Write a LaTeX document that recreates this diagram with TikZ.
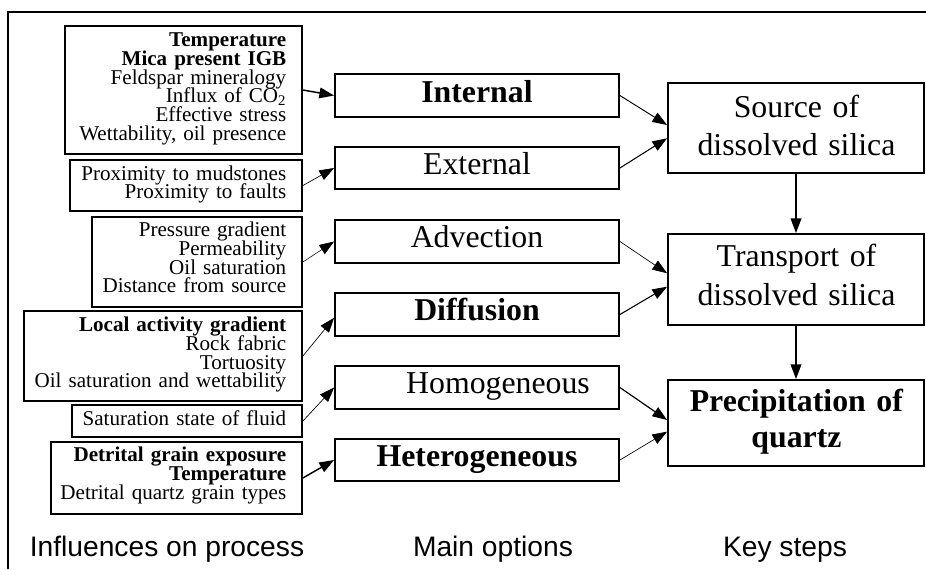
\documentclass[tikz,border=0pt]{standalone}
\usepackage{fontspec}
\setmainfont{Liberation Serif}
\newfontfamily\colfont{Liberation Sans}
\usetikzlibrary{arrows.meta,fit}
\newcommand\tightlines{\lineskiplimit=-100pt\relax}
\begin{document}
\begin{tikzpicture}[x=0.75pt,y=-0.75pt,
  box/.style={draw, line width=1.4pt, inner sep=0pt},
  inftext/.style={anchor=base east, inner sep=0pt, text width=200pt, align=right,
    font={\fontsize{15.8}{14}\selectfont\tightlines}},
  opttext/.style={anchor=base, inner sep=0pt, font={\fontsize{23.85}{28}\selectfont}},
  steptext/.style={anchor=base, inner sep=0pt, text width=200pt, align=center,
    font={\fontsize{23.85}{29}\selectfont\tightlines}},
  coltitle/.style={anchor=base, inner sep=0pt, font={\colfont\fontsize{21.15}{25}\selectfont}},
  arr/.style={-{Triangle[length=11pt,width=8pt]}},
  thickarr/.style={arr, line width=1.1pt},
  medarr/.style={arr, line width=0.8pt},
  thinarr/.style={arr, line width=0.5pt}
]
\useasboundingbox (0,0) rectangle (926,569);
% frame
\coordinate (fbl) at (7.5,569);
\coordinate (ftl) at (7.5,11.7);
\coordinate (ftr) at (926,11.7);
\draw[line width=1.5pt] (fbl) -- (ftl) -- (ftr);

% influence boxes
\node[box, fit={(65,26) (302,154)}] (b1) {};
\node[box, fit={(70,160) (302,211)}] (b2) {};
\node[box, fit={(92,217) (302,307)}] (b3) {};
\node[box, fit={(24,311) (302,401)}] (b4) {};
\node[box, fit={(72,405) (302,437)}] (b5) {};
\node[box, fit={(51,442) (302,514)}] (b6) {};

\node[inftext] (t1) at (286.5,46.7) {\textbf{Temperature}\\\textbf{Mica present IGB}\\Feldspar mineralogy\\Influx of CO\textsubscript{2}\\Effective stress\\Wettability, oil presence};
\node[inftext] (t2) at (286.5,180) {Proximity to mudstones\\Proximity to faults};
\node[inftext] (t3) at (286.5,236.7) {Pressure gradient\\Permeability\\Oil saturation\\Distance from source};
\node[inftext] (t4) at (286.5,331.7) {\textbf{Local activity gradient}\\Rock fabric\\Tortuosity\\Oil saturation and wettability};
\node[inftext] (t5) at (286.5,425) {Saturation state of fluid};
\node[inftext] (t6) at (286.5,461.7) {\textbf{Detrital grain exposure}\\\textbf{Temperature}\\Detrital quartz grain types};

% option boxes
\node[box, fit={(335,74) (619,117)}] (int) {};
\node[box, fit={(335,147) (619,189)}] (ext) {};
\node[box, fit={(335,220) (619,263)}] (adv) {};
\node[box, fit={(335,293) (619,336)}] (dif) {};
\node[box, fit={(335,366) (619,409)}] (hom) {};
\node[box, fit={(335,439) (619,481)}] (het) {};

\node[opttext] (tint) at (477,102) {\textbf{Internal}};
\node[opttext] (text) at (477,174.5) {External};
\node[opttext] (tadv) at (477,247.5) {Advection};
\node[opttext] (tdif) at (477,320.5) {\textbf{Diffusion}};
\node[opttext] (thom) at (498,393.5) {Homogeneous};
\node[opttext] (thet) at (477,466.5) {\textbf{Heterogeneous}};

% key step boxes
\node[box, fit={(668,83) (924,173)}] (src) {};
\node[box, fit={(668,234) (924,325)}] (trn) {};
\node[box, fit={(668,380) (924,466)}] (pre) {};

\node[steptext] (tsrc) at (796.5,117.3) {Source of\\dissolved silica};
\node[steptext] (ttrn) at (796.5,266.5) {Transport of\\dissolved silica};
\node[steptext, font={\fontsize{23.85}{26.7}\selectfont\tightlines}] (tpre) at (796.5,411.7) {\textbf{Precipitation of}\\\textbf{quartz}};

% column titles
\node[coltitle] (c1) at (167,556.7) {Influences on process};
\node[coltitle] (c2) at (493,556.7) {Main options};
\node[coltitle] (c3) at (785,556.7) {Key steps};

% arrows influences -> options
\draw[thickarr] (b1.east) -- (int.west);
\draw[thinarr] (b2.east) -- (ext.west);
\draw[thinarr, line width=0.4pt] (b3.east) -- (adv.west);
\draw[thinarr] (b4.east) -- ([yshift=-2.5pt]dif.west);
\draw[thinarr] (b5.east) -- (hom.west);
\draw[thickarr] (b6.east) -- (het.west);

% arrows options -> key steps
\draw[medarr, line width=0.7pt] (int.east) -- ([yshift=2.25pt]src.west);
\draw[medarr] (ext.east) -- ([yshift=-7.7pt]src.west);
\draw[thinarr] (adv.east) -- ([yshift=4.7pt]trn.west);
\draw[medarr] (dif.east) -- ([yshift=-5.4pt]trn.west);
\draw[medarr, line width=0.9pt] (hom.east) -- ([yshift=2.25pt]pre.west);
\draw[thinarr] (het.east) -- ([yshift=-6.5pt]pre.west);

% vertical arrows
\draw[thickarr] (src.south) -- (trn.north);
\draw[thickarr] (trn.south) -- (pre.north);
\end{tikzpicture}
\end{document}
